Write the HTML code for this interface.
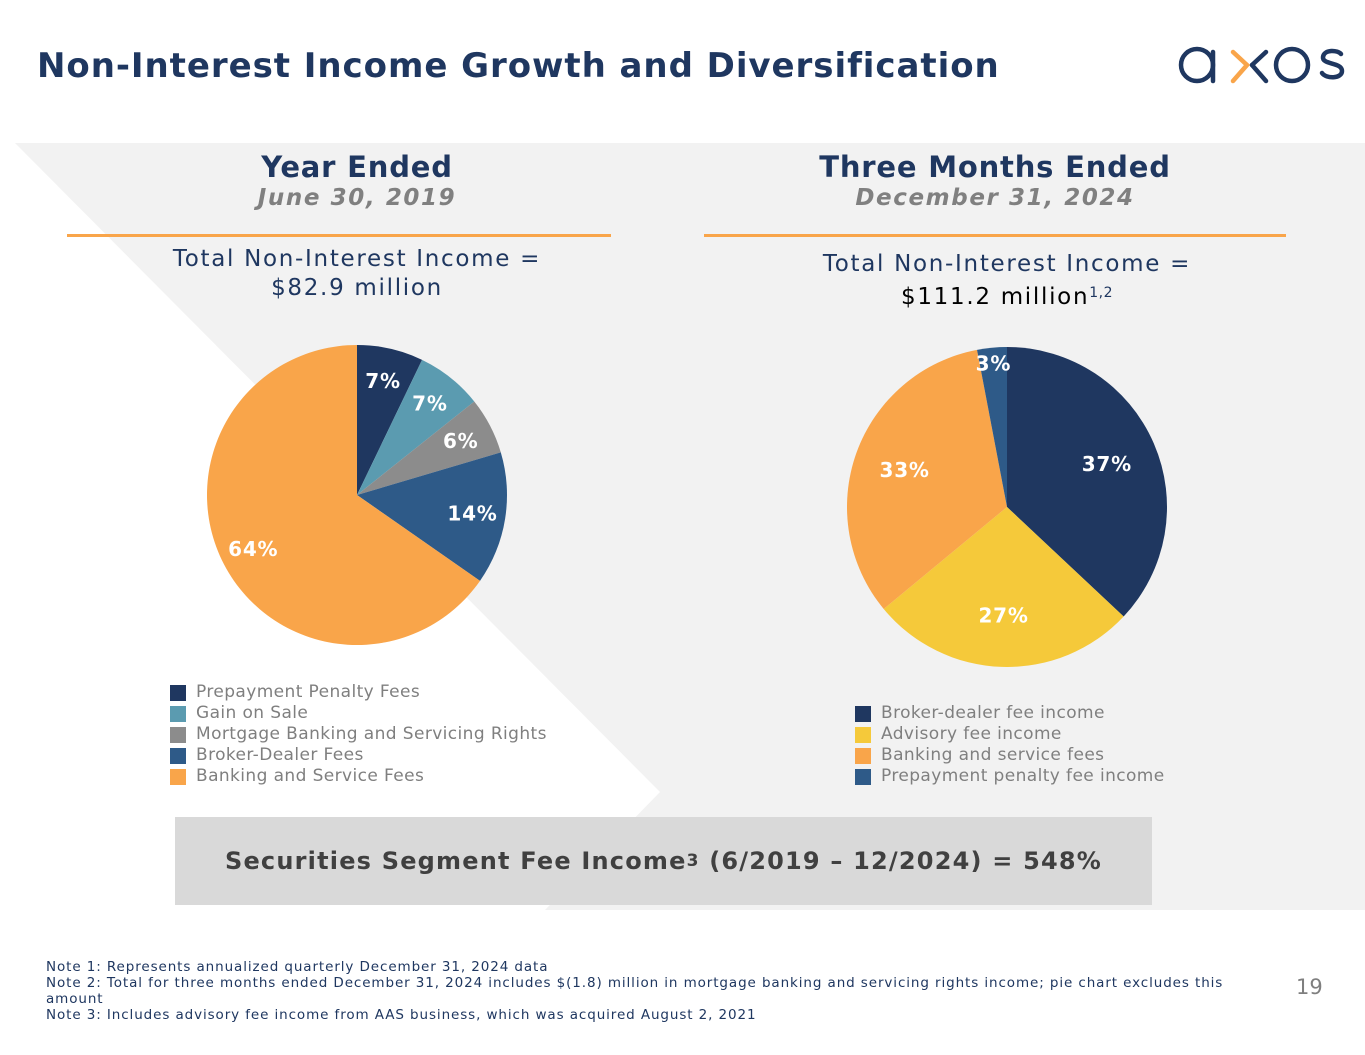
<!DOCTYPE html>
<html><head><meta charset="utf-8">
<style>
body{margin:0;width:1365px;height:1055px;background:#fff;font-family:"Liberation Sans","DejaVu Sans",sans-serif;position:relative;overflow:hidden}
.abs{position:absolute}
h1{position:absolute;left:37px;top:46px;margin:0;font-family:"DejaVu Sans",sans-serif;font-weight:bold;font-size:34px;color:#1f3760;letter-spacing:0.95px}
.hd{position:absolute;text-align:center;font-family:"DejaVu Sans",sans-serif;font-weight:bold;color:#1f3760;font-size:29px;letter-spacing:0.8px}
.sub{position:absolute;text-align:center;font-family:"DejaVu Sans",sans-serif;font-weight:bold;font-style:italic;color:#808080;font-size:23px;letter-spacing:1.6px}
.tot{position:absolute;text-align:center;font-family:"DejaVu Sans",sans-serif;color:#1f3760;font-size:23px;line-height:29px;letter-spacing:1.7px}
.leg{position:absolute;font-family:"DejaVu Sans",sans-serif;font-size:17px;color:#7f7f7f;line-height:21px;letter-spacing:0.4px}
.leg div{display:flex;align-items:center}
.leg span.sw{display:inline-block;width:16px;height:16px;margin-right:10px}
.note{position:absolute;left:46px;top:959px;font-family:"DejaVu Sans",sans-serif;font-size:13.5px;color:#1f3760;line-height:16px;width:1240px;letter-spacing:0.9px}
</style></head><body>
<svg class="abs" style="left:0;top:0" width="1365" height="1055">
<polygon points="15,143 1365,143 1365,910 545,910 660,792" fill="#f2f2f2"/>
</svg>
<h1>Non-Interest Income Growth and Diversification</h1>
<svg class="abs" style="left:1175px;top:40px" width="175" height="50">
<g fill="none" stroke="#1f3760" stroke-width="4.5" stroke-linecap="round">
<circle cx="22" cy="25" r="16"/><line x1="38" y1="12" x2="38" y2="41"/>
<line x1="77" y1="25" x2="91" y2="12"/><line x1="77" y1="25" x2="91" y2="41"/>
<circle cx="117" cy="25" r="16"/>
<path d="M166 14c-3-4-17-5-18 3c-1 8 19 5 19 14c0 8-16 8-20 2"/>
</g>
<g fill="none" stroke="#f9a54a" stroke-width="4.5" stroke-linecap="round"><polyline points="58,12 72,25 58,41"/></g>
</svg>

<div class="hd" style="left:157px;width:400px;top:150px">Year Ended</div>
<div class="sub" style="left:157px;width:400px;top:185px">June 30, 2019</div>
<div class="abs" style="left:67px;top:234px;width:544px;height:3px;background:#f9a54a"></div>
<div class="tot" style="left:107px;width:500px;top:245px">Total Non-Interest Income =<br>$82.9 million</div>

<div class="hd" style="left:745px;width:500px;top:150px">Three Months Ended</div>
<div class="sub" style="left:745px;width:500px;top:185px">December 31, 2024</div>
<div class="abs" style="left:704px;top:234px;width:582px;height:3px;background:#f9a54a"></div>
<div class="tot" style="left:757px;width:500px;top:250px">Total Non-Interest Income =<br><span style="color:#000">$111.2 million<span style="font-size:14px;color:#1f3760;vertical-align:7px;letter-spacing:0.5px">1,2</span></span></div>

<svg id="pies" class="abs" style="left:0;top:0" width="1365" height="1055"></svg>

<div class="leg" style="left:170px;top:682px">
<div><span class="sw" style="background:#1f3760"></span>Prepayment Penalty Fees</div>
<div><span class="sw" style="background:#5b9bb0"></span>Gain on Sale</div>
<div><span class="sw" style="background:#8c8c8c"></span>Mortgage Banking and Servicing Rights</div>
<div><span class="sw" style="background:#2e5a88"></span>Broker-Dealer Fees</div>
<div><span class="sw" style="background:#f9a54a"></span>Banking and Service Fees</div>
</div>
<div class="leg" style="left:855px;top:703px">
<div><span class="sw" style="background:#1f3760"></span>Broker-dealer fee income</div>
<div><span class="sw" style="background:#f5c93a"></span>Advisory fee income</div>
<div><span class="sw" style="background:#f9a54a"></span>Banking and service fees</div>
<div><span class="sw" style="background:#2e5a88"></span>Prepayment penalty fee income</div>
</div>

<div class="abs" style="left:175px;top:817px;width:977px;height:88px;background:#d9d9d9;display:flex;align-items:center;justify-content:center;font-family:'DejaVu Sans',sans-serif;font-weight:bold;font-size:24px;color:#404040;letter-spacing:1.2px">Securities Segment Fee Income<span style="font-size:17px;vertical-align:6px">3</span>&nbsp;(6/2019 – 12/2024) = 548%</div>

<div class="note">Note 1: Represents annualized quarterly December 31, 2024 data<br>Note 2: Total for three months ended December 31, 2024 includes $(1.8) million in mortgage banking and servicing rights income; pie chart excludes this<br>amount<br>Note 3: Includes advisory fee income from AAS business, which was acquired August 2, 2021</div>
<div class="abs" style="left:1296px;top:975px;font-size:21px;color:#7f7f7f;font-family:'DejaVu Sans',sans-serif">19</div>

<script>
const pie1Categories=["Prepayment Penalty Fees","Gain on Sale","Mortgage Banking and Servicing Rights","Broker-Dealer Fees","Banking and Service Fees"];
const pie1Values=[7,7,6,14,64];
const pie1Colors=["#1f3760","#5b9bb0","#8c8c8c","#2e5a88","#f9a54a"];
const pie2Categories=["Broker-dealer fee income","Advisory fee income","Banking and service fees","Prepayment penalty fee income"];
const pie2Values=[37,27,33,3];
const pie2Colors=["#1f3760","#f5c93a","#f9a54a","#2e5a88"];
const NS="http://www.w3.org/2000/svg";
const svg=document.getElementById('pies');
function drawPie(vals,cols,cx,cy,r,lf,name){
  const tot=vals.reduce((a,b)=>a+b,0);
  let a0=0;
  vals.forEach((v,i)=>{
    const a1=a0+v/tot*2*Math.PI;
    const p=t=>[cx+r*Math.sin(t),cy-r*Math.cos(t)];
    const [x0,y0]=p(a0),[x1,y1]=p(a1);
    const path=document.createElementNS(NS,'path');
    path.setAttribute('d',`M${cx},${cy}L${x0},${y0}A${r},${r} 0 ${a1-a0>Math.PI?1:0} 1 ${x1},${y1}Z`);
    path.setAttribute('fill',cols[i]);
    
    
    svg.appendChild(path);
    const am=(a0+a1)/2, lr=r*(v<5?0.9:lf);
    const t=document.createElementNS(NS,'text');
    t.setAttribute('x',cx+lr*Math.sin(am));t.setAttribute('y',cy-lr*Math.cos(am)+7);
    t.setAttribute('text-anchor','middle');t.setAttribute('fill','#fff');
    t.setAttribute('font-family','DejaVu Sans, sans-serif');t.setAttribute('font-weight','bold');t.setAttribute('font-size','20');
    t.setAttribute('letter-spacing','0.8');
    t.textContent=v+'%';
    
    
    svg.appendChild(t);
    a0=a1;
  });
}
drawPie(pie1Values,pie1Colors,357,495,150,0.78,'pie-2019');
drawPie(pie2Values,pie2Colors,1007,507,160,0.68,'pie-2024');
</script>
</body></html>
